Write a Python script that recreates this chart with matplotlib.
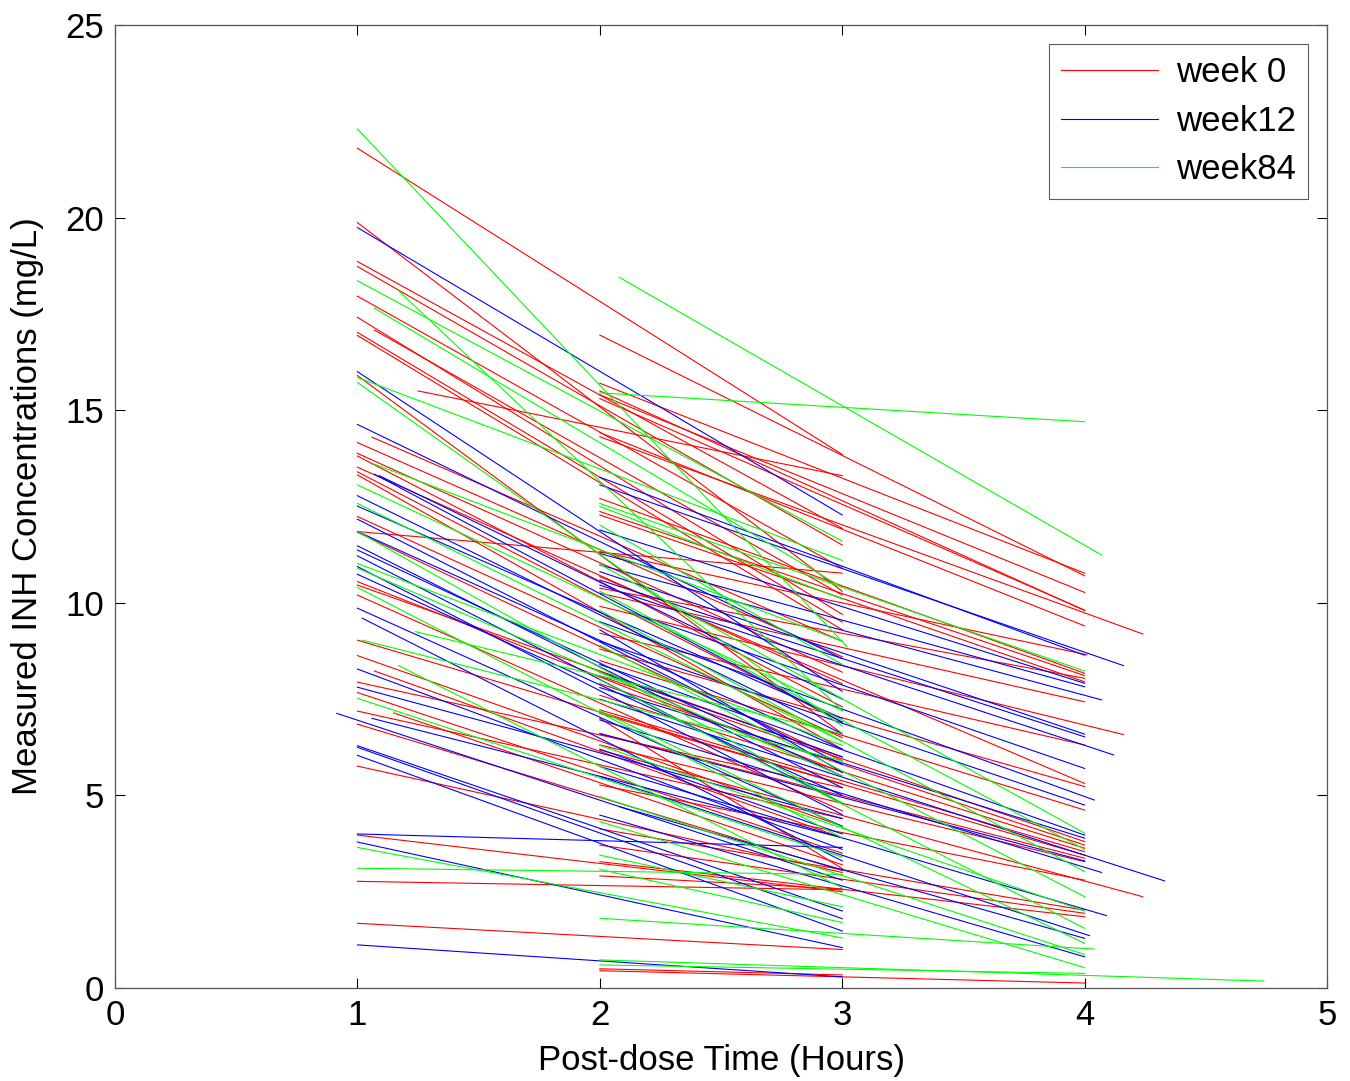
import matplotlib
matplotlib.use("Agg")
import matplotlib.pyplot as plt

plt.rcParams["font.family"] = ["Liberation Sans", "DejaVu Sans"]

# week 0 (red): start time, start conc, end time, end conc
w0_t_start = [1, 1, 1, 1, 1, 1.07, 1, 1, 1, 1, 1.25, 1.06, 1, 1, 1, 1, 1, 1, 1, 1,
              1, 1, 1, 1, 1, 1, 1.07, 1, 1, 1, 1.15, 1, 1, 1, 1, 1,
              2, 2, 2, 2, 2, 2, 2, 2, 2, 2, 2, 2, 2, 2, 2, 2, 2, 2, 2, 2,
              2, 2, 2, 2, 2, 2, 2, 2, 2, 2, 2, 2, 2, 2]
w0_c_start = [21.8, 19.87, 18.86, 18.73, 17.96, 17.08, 17.41, 17.02, 16.94, 15.9,
              15.5, 14.3, 14.16, 13.88, 13.81, 13.52, 13.4, 13.32, 12.24, 11.85,
              11.83, 10.55, 10.46, 10.2, 9.03, 8.63, 8.23, 7.94, 7.67, 7.19,
              7.14, 6.85, 5.76, 3.97, 2.77, 1.68,
              16.95, 15.7, 15.5, 15.4, 15.3, 14.42, 14.31, 12.71, 12.37, 12.28,
              11.33, 10.68, 10.38, 10.25, 9.91, 9.21, 8.8, 8.5, 8.1, 7.9,
              7.6, 7.22, 7.13, 6.61, 6.31, 6.18, 5.27, 4.13, 3.71, 3.28,
              2.91, 0.45, 7.0, 0.5]
w0_t_end = [3, 3, 3, 3, 3, 3, 3, 3, 3, 3, 3, 3, 3, 3, 3, 3, 3, 3, 3, 3,
            3, 3, 3, 3, 3, 3, 3, 3, 3, 3, 3, 3, 3, 3, 3, 3,
            4, 4, 4, 4, 4, 4, 4.24, 4, 4, 4, 4.01, 4, 4, 4, 4.16, 4, 4, 4, 4, 4,
            4, 4, 4, 4, 4, 4.24, 4, 4, 4, 4, 3, 4, 3, 3]
w0_c_end = [13.85, 10.3, 11.93, 11.5, 10.9, 10.2, 9.7, 9.5, 9.3, 6.6,
            13.3, 9.0, 8.6, 8.2, 7.3, 7.9, 6.9, 6.2, 6.5, 10.77,
            5.9, 5.6, 6.0, 4.6, 5.3, 4.2, 3.9, 5.2, 3.5, 4.4,
            3.2, 3.05, 3.0, 2.5, 2.55, 1.0,
            10.7, 10.77, 9.8, 10.27, 9.81, 9.4, 9.19, 8.17, 8.11, 7.95,
            8.65, 5.31, 8.04, 7.43, 6.58, 6.31, 5.23, 4.62, 3.8, 3.71,
            3.63, 3.54, 3.45, 3.37, 3.28, 2.37, 2.8, 2.02, 1.94, 1.85,
            2.57, 0.13, 3.1, 0.34]

# week 12 (blue)
w12_t_start = [1, 1, 1, 1.07, 1.09, 1, 1, 1, 1, 1, 1, 1, 1, 1, 1, 1.02, 1, 1, 0.915,
               1.06, 1, 1, 1, 1, 1, 1,
               2, 2, 2, 2, 2, 2, 2, 2, 2.12, 2, 2, 2, 2, 2, 2, 2, 2, 2, 2.08, 2,
               2, 2, 2]
w12_c_start = [19.74, 16.0, 14.63, 13.34, 13.3, 12.78, 12.51, 12.17, 11.85, 11.48,
               11.37, 11.22, 10.94, 10.74, 9.86, 9.6, 8.28, 7.81, 7.13, 7.0,
               6.29, 6.25, 6.04, 4.0, 3.79, 1.12,
               13.26, 13.06, 11.89, 11.28, 10.98, 10.81, 10.59, 10.46, 9.77, 9.51,
               9.0, 8.4, 7.8, 7.5, 6.96, 6.6, 5.75, 5.49, 4.71, 4.49,
               8.2, 6.2, 9.3]
w12_t_end = [3, 3, 3, 3, 3, 3, 3, 3, 3, 3, 3, 3, 3, 3, 3, 3, 3, 3, 3, 3, 3, 3, 3,
             3, 3, 3,
             4, 4.16, 4, 4, 4.07, 4, 4, 4.12, 4, 4.04, 4, 4, 4, 4.33, 4.07, 4,
             4.09, 4.02, 4, 4, 3, 3, 3]
w12_c_end = [12.28, 7.7, 8.55, 6.9, 7.5, 6.6, 7.0, 5.8, 6.2, 5.2,
             5.5, 4.8, 4.5, 5.0, 4.2, 3.3, 3.6, 4.4, 2.8, 3.9,
             2.0, 1.8, 1.48, 3.65, 1.05, 0.29,
             8.64, 8.37, 7.91, 7.82, 7.48, 6.59, 6.52, 6.05, 5.7, 4.88,
             4.75, 3.97, 3.89, 2.78, 3.0, 3.3, 1.88, 1.36, 1.29, 0.81,
             6.0, 4.0, 5.6]

# week 84 (green)
w84_t_start = [1, 1, 1.07, 1.17, 1, 1, 1, 1, 1, 1, 1, 1, 1.02, 1.24, 1.17, 1, 1, 1,
               1.07,
               2, 2.08, 2, 2, 2, 2, 2, 2, 2, 2, 2, 2, 2, 2, 2, 2, 2, 2, 2]
w84_c_start = [22.3, 18.36, 17.65, 18.1, 15.85, 15.72, 13.06, 12.58, 11.85, 11.02,
               10.9, 10.4, 9.03, 9.25, 8.37, 7.52, 3.65, 3.11, 13.6,
               15.45, 18.45, 12.58, 12.5, 12.02, 9.8, 8.9, 8.0, 7.2, 4.97,
               4.32, 3.45, 3.08, 1.81, 0.73, 0.6, 10.3, 11.0, 6.3]
w84_t_end = [3.02, 3, 3, 3, 3, 3, 3, 3, 3, 3, 3, 3, 3, 3, 3, 3, 3, 3, 3,
             4, 4.07, 4, 3, 3, 4, 4, 4, 4, 4, 4, 3, 3, 4.04, 4.74, 4, 4, 4, 4]
w84_c_end = [8.86, 11.6, 10.4, 7.2, 11.1, 6.8, 7.2, 6.4, 4.8, 6.3,
             5.5, 3.9, 5.9, 6.6, 2.6, 3.4, 1.3, 2.95, 9.0,
             14.7, 11.24, 8.23, 10.1, 8.4, 3.02, 2.37, 1.55, 1.16, 0.87,
             0.53, 2.11, 1.7, 1.01, 0.18, 0.38, 3.6, 4.02, 2.0]

groups = [
    ("week 0", "#ff0000", w0_t_start, w0_c_start, w0_t_end, w0_c_end),
    ("week12", "#0000ff", w12_t_start, w12_c_start, w12_t_end, w12_c_end),
    ("week84", "#00ff00", w84_t_start, w84_c_start, w84_t_end, w84_c_end),
]

fig = plt.figure(figsize=(13.5, 10.81), dpi=100)
ax = fig.add_axes([0.0852, 0.086, 0.8978, 0.8909])

for label, color, ts, cs, te, ce in groups:
    for i in range(len(ts)):
        ax.plot([ts[i], te[i]], [cs[i], ce[i]], color=color, lw=0.8,
                label=label if i == 0 else None)

ax.set_xlim(0, 5)
ax.set_ylim(0, 25)
ax.set_xticks(range(0, 6))
ax.set_yticks(range(0, 26, 5))
ax.tick_params(direction="in", length=7, width=0.8, labelsize=25,
               top=True, right=True, pad=8)
for s in ax.spines.values():
    s.set_color("#555555")
    s.set_linewidth(0.9)
ax.set_xlabel("Post-dose Time (Hours)", fontsize=25)
ax.set_ylabel("Measured INH Concentrations (mg/L)", fontsize=25)
ax.xaxis.set_label_coords(0.5, -0.075, transform=ax.transAxes)
ax.yaxis.set_label_coords(-0.072, 0.5, transform=ax.transAxes)
ax.xaxis.label.set_va("center")
ax.yaxis.label.set_va("center")

leg = ax.legend(loc="upper right", fontsize=25, handlelength=2.8,
                borderaxespad=0.55, frameon=True, fancybox=False,
                borderpad=0.35, labelspacing=0.45, handletextpad=0.5)
leg.get_frame().set_edgecolor("#333333")
leg.get_frame().set_linewidth(0.8)

fig.savefig("out.png", dpi=100)
